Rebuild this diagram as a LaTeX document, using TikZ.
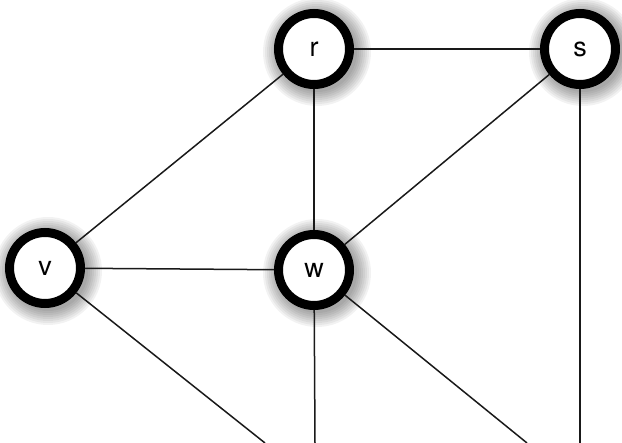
\documentclass[tikz,border=0pt]{standalone}
\usepackage{fontspec}
\setmainfont{TeX Gyre Heros}
\usepackage{tikz}
\usetikzlibrary{backgrounds,positioning}
\tikzset{
  vtx/.style={circle, draw=black, line width=9pt, fill=white,
    minimum size=71pt, inner sep=0pt, font=\fontsize{27}{30}\selectfont},
  edge/.style={line width=1.5pt, draw=black!90},
  glow/.style={fill=black, opacity=0.05, draw=none}
}

\begin{document}
\begin{tikzpicture}[x=1pt, y=-1pt]
      \useasboundingbox (0,0) rectangle (622,443);
      \node[vtx] (r) at (314,49) {r};
      \node[vtx] (s) at (580,49) {s};
      \node[vtx] (v) at (45,268) {v};
      \node[vtx] (w) at (314,270) {w};
      % free ends at the lower edge
      \coordinate (vb) at (265,443);
      \coordinate (wb) at (315,443);
      \coordinate (wd) at (527,443);
      \coordinate (sb) at (580,443);
      \draw[edge] (r) -- (s);
      \draw[edge] (r) -- (v);
      \draw[edge] (r) -- (w);
      \draw[edge] (s) -- (w);
      \draw[edge] (v) -- (w);
      \draw[edge] (v) -- (vb);
      \draw[edge] (w) -- (wb);
      \draw[edge] (w) -- (wd);
      \draw[edge] (s) -- (sb);
      % soft shadows
      \begin{scope}[on background layer]
        \foreach \n in {r,s,v,w}
          \foreach \rr in {54,52,...,40}
            \fill[glow] ([shift={(3,3)}]\n.center) circle[radius=\rr];
      \end{scope}
    \end{tikzpicture}
\end{document}
